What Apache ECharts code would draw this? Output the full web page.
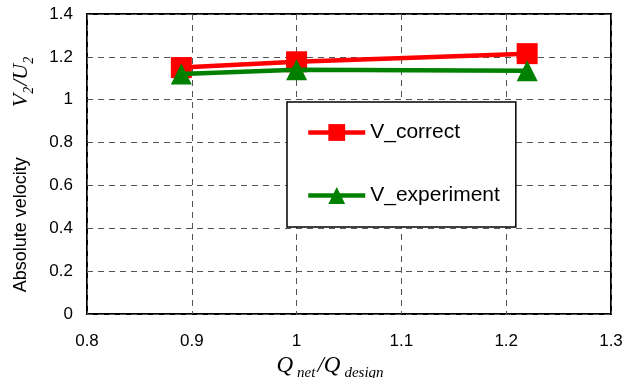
<!DOCTYPE html>
<html><head><meta charset="utf-8">
<script src="https://cdn.jsdelivr.net/npm/echarts@6/dist/echarts.min.js"></script>
<style>html,body{margin:0;padding:0;background:#fff}#c{width:640px;height:378px}</style>
</head><body><div id="c"></div>
<script>
const xValues = [0.89, 1.0, 1.22];
const vCorrect = [1.15, 1.177, 1.215];
const vExperiment = [1.12, 1.14, 1.135];
const xTicks = [0.8, 0.9, 1.0, 1.1, 1.2, 1.3];
const yTicks = [0, 0.2, 0.4, 0.6, 0.8, 1.0, 1.2, 1.4];
const seriesNames = ['V_correct', 'V_experiment'];

const chart = echarts.init(document.getElementById('c'), null, {renderer: 'canvas'});
const font = 'Liberation Sans, Arial, sans-serif';
const serif = 'Liberation Serif, Times New Roman, serif';
chart.setOption({
  animation: false,
  backgroundColor: '#fff',
  grid: {left: 87, top: 14, width: 524, height: 300, outerBoundsMode: 'none', containLabel: false,
    show: true, borderColor: '#000', borderWidth: 2, backgroundColor: 'transparent'},
  xAxis: {
    type: 'value', min: xTicks[0], max: xTicks[xTicks.length-1], interval: 0.1,
    axisLine: {show: false}, axisTick: {show: false},
    axisLabel: {fontFamily: font, fontSize: 17, color: '#000', margin: 19,
      formatter: v => String(Number(v.toFixed(1)))},
    splitLine: {show: true, lineStyle: {color: '#555', type: [6, 5], width: 1}},
    name: '{q|Q}{s|net}{q|/Q}{s|design}',
    nameLocation: 'middle', nameGap: 31,
    nameTextStyle: {padding: [0, 36, 0, 0], rich: {
      q: {fontFamily: serif, fontStyle: 'italic', fontSize: 23, color: '#000', lineHeight: 24},
      s: {fontFamily: serif, fontStyle: 'italic', fontSize: 15, color: '#000', lineHeight: 24, verticalAlign: 'bottom', padding: [0, 2, -2, 4]}
    }}
  },
  yAxis: {
    type: 'value', min: yTicks[0], max: yTicks[yTicks.length-1], interval: 0.2,
    axisLine: {show: false}, axisTick: {show: false},
    axisLabel: {fontFamily: font, fontSize: 17, color: '#000', margin: 14,
      formatter: v => String(Number(v.toFixed(1)))},
    splitLine: {show: true, lineStyle: {color: '#555', type: [6, 5], width: 1}},
    name: '{a|Absolute velocity}{g|}{v|V}{s|2}{v|/U}{s|2}',
    nameLocation: 'middle', nameGap: 53, nameRotate: 90,
    nameTextStyle: {padding: [0, 20, 0, 0], rich: {
      a: {fontFamily: font, fontSize: 18, color: '#000', lineHeight: 26},
      g: {width: 50, lineHeight: 26},
      v: {fontFamily: serif, fontStyle: 'italic', fontSize: 22, color: '#000', lineHeight: 26},
      s: {fontFamily: serif, fontStyle: 'italic', fontSize: 14, color: '#000', lineHeight: 26, verticalAlign: 'bottom', padding: [0, 1, -2, 0]}
    }}
  },
  legend: {
    orient: 'vertical', left: 287, top: 102,
    backgroundColor: '#fff', borderColor: '#000', borderWidth: 1.5,
    padding: [20, 16, 21, 19], itemGap: 42, itemWidth: 57, itemHeight: 21,
    lineStyle: {width: 4.5},
    textStyle: {fontFamily: font, fontSize: 21, color: '#000'},
    data: seriesNames
  },
  series: [
    {name: seriesNames[0], type: 'line', data: xValues.map((x, i) => [x, vCorrect[i]]),
      symbol: 'rect', symbolSize: 21, itemStyle: {color: '#ff0000'},
      lineStyle: {color: '#ff0000', width: 4.5}, z: 3},
    {name: seriesNames[1], type: 'line', data: xValues.map((x, i) => [x, vExperiment[i]]),
      symbol: 'triangle', symbolSize: 21, itemStyle: {color: '#008000'},
      lineStyle: {color: '#008000', width: 4.5}, z: 4}
  ]
});
</script></body></html>
